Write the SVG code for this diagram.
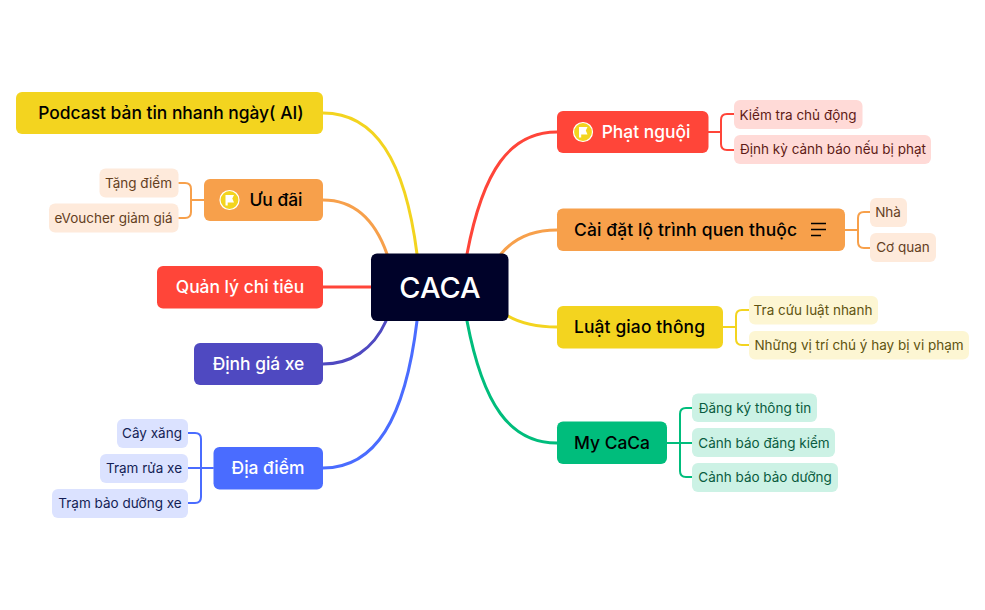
<svg xmlns="http://www.w3.org/2000/svg" width="985" height="610" viewBox="0 0 985 610">
<style>
text{font-family:"Inter","Noto Sans","Liberation Sans",sans-serif;dominant-baseline:central}
.m{font-size:17.4px;font-weight:500;text-anchor:middle}
.l{font-size:13.5px;text-anchor:middle}
.c{fill:none;stroke-width:3;stroke-linecap:round}
.t{stroke-width:2}
.r{stroke:#ff4539}.o{stroke:#f7a04b}.y{stroke:#f3d41f}.g{stroke:#00bd7c}.b{stroke:#4a6cff}.p{stroke:#4f49c1}
</style>
<defs>
<g id="flag"><circle r="9.500" fill="#f3d41f" stroke="#fff" stroke-width="1.200"/><path d="M-4-5H4.500L2.800-1.500 4.500 2.500H-1.800V5.500H-4Z" fill="#fff"/></g>
</defs>
<rect width="985" height="610" fill="#fff"/>
<g id="connectors">
<path class="c y" d="M323 113C375 113 405 160 417 254"/>
<path class="c o" d="M323 200C355 200 375 220 387 254"/>
<path class="c r" d="M323 287H371"/>
<path class="c p" d="M323 364C350 364 373 350 386 321"/>
<path class="c b" d="M323 468C375 468 405 420 417 321"/>
<path class="c r" d="M557 132C510 132 483 170 467 254"/>
<path class="c o" d="M557 230C535 230 515 237 501 254"/>
<path class="c y" d="M557 327C535 327 520 323 508 316"/>
<path class="c g" d="M557 443C510 443 483 405 467 321"/>
<path class="c t r" d="M708 132H721M734 114H727Q721 114 721 120V144Q721 150 727 150H734"/>
<path class="c t o" d="M845 230H858M870 212H864Q858 212 858 218V242Q858 248 864 248H870"/>
<path class="c t y" d="M723 327H736M749 310H742Q736 310 736 316V339Q736 345 742 345H749"/>
<path class="c t g" d="M667 443H680M692 408H686Q680 408 680 414V471Q680 477 686 477H692M680 443H692"/>
<path class="c t o" d="M204 200H191M179 183H185Q191 183 191 189V212Q191 218 185 218H179"/>
<path class="c t b" d="M213 468H201M188 433H195Q201 433 201 439V497Q201 503 195 503H188M201 468H188"/>
</g>
<g id="root"><rect x="371" y="253.500" width="137.500" height="67.500" rx="6" fill="#000229"/><text x="440" y="287" text-anchor="middle" font-size="29" font-weight="500" fill="#fff">CACA</text></g>
<g id="n-podcast"><rect x="16" y="92" width="307" height="42" rx="6" fill="#f3d41f"/><text class="m" x="171" y="112.500" fill="#000">Podcast bản tin nhanh ngày( AI)</text></g>
<g id="n-uudai"><rect x="204" y="179" width="119" height="42" rx="6" fill="#f7a04b"/><use href="#flag" x="229.500" y="200"/><text class="m" x="276" y="199.500" fill="#000">Ưu đãi</text></g>
<g id="n-tangdiem"><rect x="99.500" y="168.500" width="79" height="29" rx="6" fill="#feeadb"/><text class="l" x="138.500" y="183" fill="#64401e">Tặng điểm</text></g>
<g id="n-evoucher"><rect x="49" y="203.500" width="129.500" height="29" rx="6" fill="#feeadb"/><text class="l" x="113.500" y="218" fill="#64401e">eVoucher giảm giá</text></g>
<g id="n-quanly"><rect x="157" y="266" width="166" height="42.500" rx="6" fill="#ff4539"/><text class="m" x="240" y="286.500" fill="#fff">Quản lý chi tiêu</text></g>
<g id="n-dinhgia"><rect x="194" y="343" width="129" height="42" rx="6" fill="#4f49c1"/><text class="m" x="258.500" y="363.500" fill="#fff">Định giá xe</text></g>
<g id="n-diadiem"><rect x="213.500" y="447" width="109.500" height="42.500" rx="6" fill="#4a6cff"/><text class="m" x="268" y="467.500" fill="#fff">Địa điểm</text></g>
<g id="n-cayxang"><rect x="117" y="419" width="71" height="29" rx="6" fill="#dbe2ff"/><text class="l" x="152" y="433" fill="#141e55">Cây xăng</text></g>
<g id="n-tramrua"><rect x="100" y="454" width="88" height="29" rx="6" fill="#dbe2ff"/><text class="l" x="144" y="468" fill="#141e55">Trạm rửa xe</text></g>
<g id="n-trambao"><rect x="52" y="489" width="136" height="29" rx="6" fill="#dbe2ff"/><text class="l" x="120" y="503" fill="#141e55">Trạm bảo dưỡng xe</text></g>
<g id="n-phatnguoi"><rect x="557" y="111" width="151.500" height="42" rx="6" fill="#ff4539"/><use href="#flag" x="583" y="132"/><text class="m" x="646" y="131.500" fill="#fff">Phạt nguội</text></g>
<g id="n-kiemtra"><rect x="734" y="100" width="128.500" height="29" rx="6" fill="#ffdad7"/><text class="l" x="798" y="115" fill="#5e1a16">Kiểm tra chủ động</text></g>
<g id="n-dinhky"><rect x="734" y="135" width="197" height="29" rx="6" fill="#ffdad7"/><text class="l" x="833" y="149" fill="#5e1a16">Định kỳ cảnh báo nếu bị phạt</text></g>
<g id="n-caidat"><rect x="557" y="208.500" width="288" height="42.500" rx="6" fill="#f7a04b"/><text class="m" x="685.500" y="229.500" textLength="223" fill="#000">Cài đặt lộ trình quen thuộc</text><path d="M811 223.500H826M811 229.500H826M811 235.500H821" stroke="#000" stroke-width="1.600" fill="none"/></g>
<g id="n-nha"><rect x="870" y="198" width="37" height="29" rx="6" fill="#feeadb"/><text class="l" x="888" y="212" fill="#64401e">Nhà</text></g>
<g id="n-coquan"><rect x="870" y="233" width="66" height="29" rx="6" fill="#feeadb"/><text class="l" x="903" y="247" fill="#64401e">Cơ quan</text></g>
<g id="n-luat"><rect x="557" y="306" width="166" height="42.500" rx="6" fill="#f3d41f"/><text class="m" x="639.500" y="326.500" textLength="131" fill="#000">Luật giao thông</text></g>
<g id="n-tracuu"><rect x="749" y="296" width="129" height="28.500" rx="6" fill="#fdf6d3"/><text class="l" x="813" y="310" fill="#5f5310">Tra cứu luật nhanh</text></g>
<g id="n-nhung"><rect x="749" y="331" width="220" height="28.500" rx="6" fill="#fdf6d3"/><text class="l" x="859" y="345" fill="#5f5310">Những vị trí chú ý hay bị vi phạm</text></g>
<g id="n-mycaca"><rect x="557" y="421.500" width="110" height="42.500" rx="6" fill="#00bd7c"/><text class="m" x="612" y="442.500" fill="#000">My CaCa</text></g>
<g id="n-dangky"><rect x="692" y="393.500" width="125" height="28.500" rx="6" fill="#ccf2e5"/><text class="l" x="755" y="408" fill="#0a5c40">Đăng ký thông tin</text></g>
<g id="n-dangkiem"><rect x="692" y="428" width="143" height="29" rx="6" fill="#ccf2e5"/><text class="l" x="764" y="443" fill="#0a5c40">Cảnh báo đăng kiểm</text></g>
<g id="n-baoduong"><rect x="692" y="463" width="146" height="29" rx="6" fill="#ccf2e5"/><text class="l" x="765" y="477" fill="#0a5c40">Cảnh báo bảo dưỡng</text></g>
</svg>
